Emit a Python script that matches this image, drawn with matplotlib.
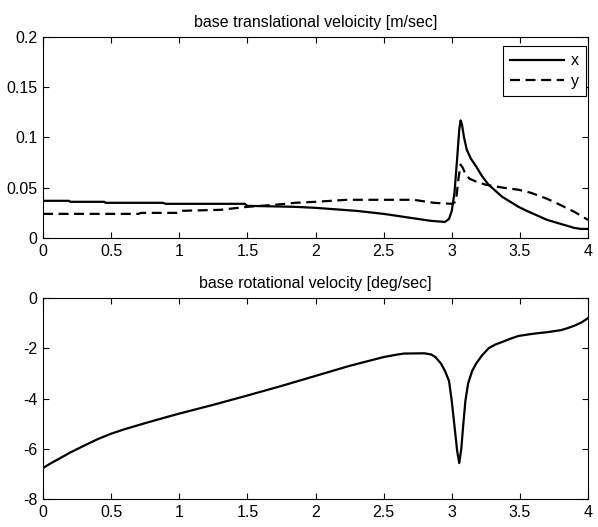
import matplotlib
matplotlib.use("Agg")
import matplotlib.pyplot as plt

plt.rcParams['font.family'] = ['Liberation Sans', 'DejaVu Sans']
plt.rcParams['font.size'] = 11
plt.rcParams['axes.unicode_minus'] = False

# --- DATA ---
t_x = [0, 0.19, 0.2, 0.45, 0.46, 0.88, 0.9, 1.48, 1.5, 1.85, 2.0, 2.3, 2.5, 2.7,
       2.85, 2.95, 2.98, 3.0, 3.02, 3.04, 3.055, 3.065, 3.075, 3.09, 3.11, 3.14,
       3.18, 3.22, 3.27, 3.32, 3.37, 3.43, 3.49, 3.55, 3.6, 3.7, 3.8, 3.9, 3.95,
       4.0]
vel_x = [0.037, 0.037, 0.036, 0.036, 0.035, 0.035, 0.034, 0.034, 0.032, 0.031,
         0.030, 0.027, 0.024, 0.020, 0.017, 0.016, 0.019, 0.027, 0.045, 0.080,
         0.108, 0.117, 0.113, 0.100, 0.088, 0.079, 0.071, 0.062, 0.053, 0.047,
         0.041, 0.036, 0.031, 0.027, 0.024, 0.018, 0.014, 0.010, 0.009, 0.009]

t_y = [0, 0.7, 0.72, 0.98, 1.0, 1.3, 1.5, 1.7, 1.85, 2.0, 2.23, 2.5, 2.72, 2.87,
       3.0, 3.03, 3.05, 3.065, 3.08, 3.1, 3.13, 3.18, 3.25, 3.38, 3.49, 3.58,
       3.7, 3.78, 3.9, 4.0]
vel_y = [0.024, 0.024, 0.025, 0.025, 0.027, 0.028, 0.031, 0.033, 0.035, 0.036,
         0.038, 0.038, 0.038, 0.035, 0.034, 0.036, 0.060, 0.073, 0.070, 0.064,
         0.059, 0.056, 0.053, 0.050, 0.048, 0.045, 0.039, 0.034, 0.026, 0.018]

t_rot = [0, 0.05, 0.1, 0.15, 0.2, 0.3, 0.4, 0.5, 0.6, 0.75, 0.9, 1.0, 1.25, 1.5,
         1.75, 2.0, 2.25, 2.5, 2.6, 2.65, 2.8, 2.85, 2.88, 2.92, 2.95, 2.98, 3.0,
         3.02, 3.04, 3.055, 3.07, 3.085, 3.1, 3.12, 3.15, 3.18, 3.22, 3.27, 3.32,
         3.37, 3.43, 3.49, 3.6, 3.7, 3.8, 3.85, 3.9, 3.95, 4.0]
rot = [-6.77, -6.6, -6.45, -6.3, -6.15, -5.88, -5.62, -5.4, -5.22, -4.98, -4.75,
       -4.6, -4.25, -3.88, -3.5, -3.1, -2.7, -2.35, -2.25, -2.21, -2.2, -2.25,
       -2.35, -2.6, -2.9, -3.3, -4.1, -5.1, -6.1, -6.57, -6.0, -5.0, -4.1, -3.4,
       -2.9, -2.6, -2.3, -2.0, -1.85, -1.75, -1.62, -1.51, -1.42, -1.36, -1.28,
       -1.2, -1.1, -0.98, -0.8]

# --- FIGURE ---
fig = plt.figure(figsize=(5.98, 5.27), dpi=100)
ax1 = fig.add_axes([0.0719, 0.5484, 0.9114, 0.3814])
ax2 = fig.add_axes([0.0719, 0.0531, 0.9114, 0.3814])

ax1.plot(t_x, vel_x, color='black', lw=1.6, label='x')
ax1.plot(t_y, vel_y, color='black', lw=1.6, ls=(0, (4.5, 2.5)), label='y')
ax1.set_xlim(0, 4)
ax1.set_ylim(0, 0.2)
ax1.set_yticks([0, 0.05, 0.1, 0.15, 0.2])
ax1.set_yticklabels(['0', '0.05', '0.1', '0.15', '0.2'])
ax1.set_title('base translational veloicity [m/sec]', fontsize=11.5, pad=7)
leg = ax1.legend(loc='upper right', bbox_to_anchor=(0.996, 0.955),
                 fancybox=False, framealpha=1, edgecolor='black',
                 handlelength=3.4, borderaxespad=0, fontsize=11.5,
                 borderpad=0.45, labelspacing=0.35, handletextpad=0.4)
leg.get_frame().set_linewidth(0.8)

ax2.plot(t_rot, rot, color='black', lw=1.6)
ax2.set_xlim(0, 4)
ax2.set_ylim(-8, 0)
ax2.set_yticks([-8, -6, -4, -2, 0])
ax2.set_title('base rotational velocity [deg/sec]', fontsize=11.5, pad=7)

xt = [0, 0.5, 1, 1.5, 2, 2.5, 3, 3.5, 4]
for ax in (ax1, ax2):
    ax.set_xticks(xt)
    ax.set_xticklabels(['0', '0.5', '1', '1.5', '2', '2.5', '3', '3.5', '4'])
    ax.tick_params(direction='in', top=True, right=True, length=4,
                   width=0.8, labelsize=11.5)
    ax.tick_params(axis='x', pad=4)
    ax.tick_params(axis='y', pad=4)
    for s in ax.spines.values():
        s.set_linewidth(0.8)

fig.savefig('out.png', dpi=100)
